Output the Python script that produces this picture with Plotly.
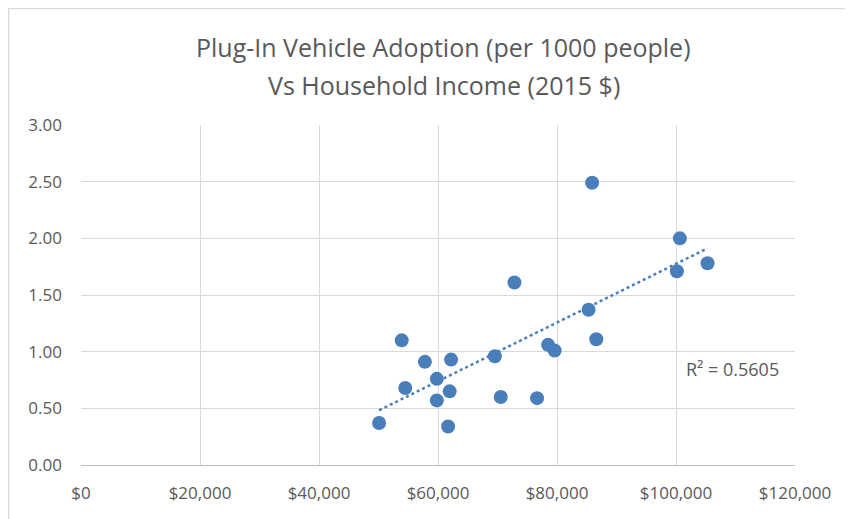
import numpy as np
import plotly.graph_objects as go

income = [85900, 100650, 105300, 100150, 72850, 85300, 53900, 86600, 78500, 79600,
          69550, 57800, 62200, 59800, 54500, 61960, 59800, 70550, 76650, 50100, 61700]
adoption = [2.49, 2.00, 1.78, 1.71, 1.61, 1.37, 1.10, 1.11, 1.06, 1.01,
            0.96, 0.91, 0.93, 0.76, 0.68, 0.65, 0.57, 0.60, 0.59, 0.37, 0.34]
x_ticks = [0, 20000, 40000, 60000, 80000, 100000, 120000]
x_tick_labels = ["$0", "$20,000", "$40,000", "$60,000", "$80,000", "$100,000", "$120,000"]
y_ticks = [0, 0.5, 1.0, 1.5, 2.0, 2.5, 3.0]
r2_label = "R² = 0.5605"
title_line1 = "Plug-In Vehicle Adoption (per 1000 people)"
title_line2 = "Vs Household Income (2015 $)"

xa = np.array(income, dtype=float)
ya = np.array(adoption, dtype=float)
slope, intercept = np.polyfit(xa, ya, 1)
tx = np.array([xa.min(), xa.max()])
ty = slope * tx + intercept

grey = "#595959"
blue = "#4A7EBB"
font_family = "Open Sans, sans-serif"

fig = go.Figure()
fig.add_trace(go.Scatter(x=tx, y=ty, mode="lines",
                         line=dict(color=blue, width=2.5, dash="dot"),
                         hoverinfo="skip", showlegend=False))
fig.add_trace(go.Scatter(x=income, y=adoption, mode="markers",
                         marker=dict(color=blue, size=14), showlegend=False))

fig.update_layout(
    width=845, height=511,
    margin=dict(l=73, r=58, t=117, b=54),
    paper_bgcolor="white", plot_bgcolor="white",
    font=dict(family=font_family, size=17, color=grey),
    xaxis=dict(range=[0, 120000], tickvals=x_ticks, ticktext=x_tick_labels,
               showgrid=True, gridcolor="#D9D9D9", gridwidth=1,
               showline=True, linecolor="#BFBFBF", linewidth=1,
               zeroline=False, ticks="", ticklabelstandoff=13),
    yaxis=dict(range=[0, 3], tickvals=y_ticks, tickformat=".2f",
               showgrid=True, gridcolor="#D9D9D9", gridwidth=1,
               showline=False, zeroline=False, ticks="", ticklabelstandoff=18),
    annotations=[
        dict(text=title_line1, x=0.508, y=1.229, xref="paper", yref="paper",
             showarrow=False, xanchor="center", yanchor="middle",
             font=dict(family=font_family, size=25, color=grey)),
        dict(text=title_line2, x=0.508, y=1.1176, xref="paper", yref="paper",
             showarrow=False, xanchor="center", yanchor="middle",
             font=dict(family=font_family, size=25, color=grey)),
        dict(text=r2_label, x=109500, y=0.85, xref="x", yref="y",
             showarrow=False, xanchor="center", yanchor="middle",
             font=dict(family=font_family, size=18, color=grey)),
    ],
    shapes=[dict(type="rect", xref="paper", yref="paper",
                 x0=-0.1015, x1=1.3, y0=-0.4, y1=1.3426,
                 line=dict(color="#D9D9D9", width=1.5), fillcolor="rgba(0,0,0,0)",
                 layer="below")],
)

fig.write_html("out.html")
